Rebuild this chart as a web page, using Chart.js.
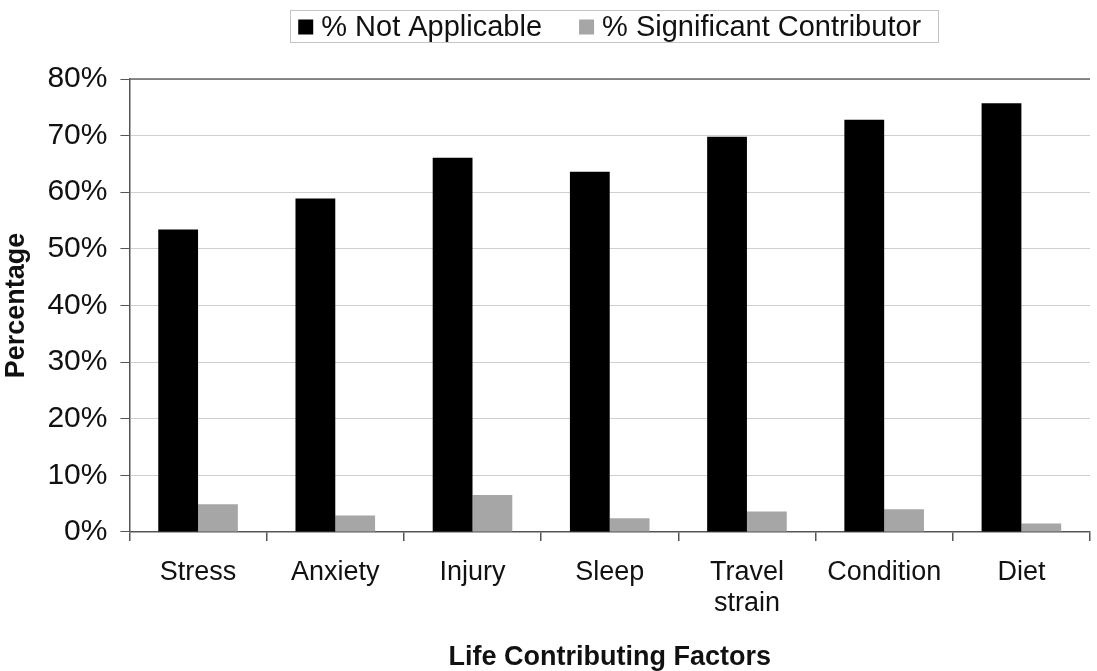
<!DOCTYPE html>
<html>
<head>
<meta charset="utf-8">
<script src="https://cdn.jsdelivr.net/npm/chart.js@4"></script>
<style>
  body { margin: 0; background: #fff; }
  #wrap { width: 1097px; height: 671px; }
</style>
</head>
<body>
<div id="wrap"><canvas id="bar-chart" width="1097" height="671"></canvas></div>
<script>
const factors = ["Stress", "Anxiety", "Injury", "Sleep", ["Travel", "strain"], "Condition", "Diet"];
const notApplicable = [53.4, 58.9, 66.1, 63.6, 69.8, 72.8, 75.7];
const significant = [4.9, 2.9, 6.5, 2.4, 3.6, 4.0, 1.5];
const yTicks = [0, 10, 20, 30, 40, 50, 60, 70, 80];

const font = "'Liberation Sans', Arial, sans-serif";

// legend in a framed box over the plot, plus a line along the top of the plot
const frames = {
  id: 'frames',
  afterDraw(chart) {
    const ctx = chart.ctx;
    const a = chart.chartArea;
    ctx.save();
    ctx.strokeStyle = '#666';
    ctx.lineWidth = 1.5;
    ctx.beginPath();
    ctx.moveTo(a.left, a.top);
    ctx.lineTo(a.right, a.top);
    ctx.stroke();

    ctx.font = '29px ' + font;
    ctx.textBaseline = 'middle';
    const sets = chart.data.datasets;
    const box = 15, gapText = 8, gapItem = 37;
    const widths = sets.map(d => box + gapText + ctx.measureText(d.label).width);
    const total = widths.reduce((s, w) => s + w, 0) + gapItem * (sets.length - 1);
    let x = (a.left + a.right) / 2 - total / 2;
    const cy = 27;
    ctx.strokeStyle = '#c4c4c4';
    ctx.lineWidth = 1;
    ctx.strokeRect(Math.round(x - 8) + 0.5, 10.5, Math.round(total + 25), 32);
    sets.forEach((d, i) => {
      ctx.fillStyle = d.backgroundColor;
      ctx.fillRect(x, cy - box / 2, box, box);
      ctx.fillStyle = '#111';
      ctx.fillText(d.label, x + box + gapText, cy + 1);
      x += widths[i] + gapItem;
    });
    ctx.restore();
  }
};

new Chart(document.getElementById("bar-chart"), {
  type: 'bar',
  data: {
    labels: factors,
    datasets: [{
        data: notApplicable,
        label: "% Not Applicable",
        backgroundColor: "#000000"
      }, {
        data: significant,
        label: "% Significant Contributor",
        backgroundColor: "#a6a6a6"
      }
    ]
  },
  options: {
    responsive: false,
    animation: false,
    categoryPercentage: 0.58,
    barPercentage: 1.0,
    layout: { padding: { left: 0, right: 7, top: 79, bottom: 0 } },
    plugins: {
      legend: { display: false },
      tooltip: { enabled: false }
    },
    scales: {
      x: {
        grid: {
          drawOnChartArea: false,
          drawTicks: true,
          tickLength: 9,
          tickColor: '#555',
          lineWidth: 1.5
        },
        border: { color: '#555', width: 1.5 },
        ticks: {
          color: '#111',
          font: { family: font, size: 27, lineHeight: 1.15 },
          maxRotation: 0,
          padding: 16
        },
        title: {
          display: true,
          text: 'Life Contributing Factors',
          color: '#111',
          font: { family: font, size: 27, weight: 'bold', lineHeight: 1 },
          padding: { top: 9, bottom: 0 }
        }
      },
      y: {
        min: 0,
        max: 80,
        afterBuildTicks: axis => { axis.ticks = yTicks.map(v => ({ value: v })); },
        grid: {
          color: '#cfcfcf',
          lineWidth: 1,
          drawTicks: true,
          tickLength: 9,
          tickColor: '#555'
        },
        border: { color: '#555', width: 1.5 },
        ticks: {
          color: '#111',
          font: { family: font, size: 30 },
          padding: 13,
          callback: v => v + '%'
        },
        title: {
          display: true,
          text: 'Percentage',
          color: '#111',
          font: { family: font, size: 27, weight: 'bold' },
          padding: { top: 0, bottom: 2 }
        }
      }
    }
  },
  plugins: [frames]
});
</script>
</body>
</html>
